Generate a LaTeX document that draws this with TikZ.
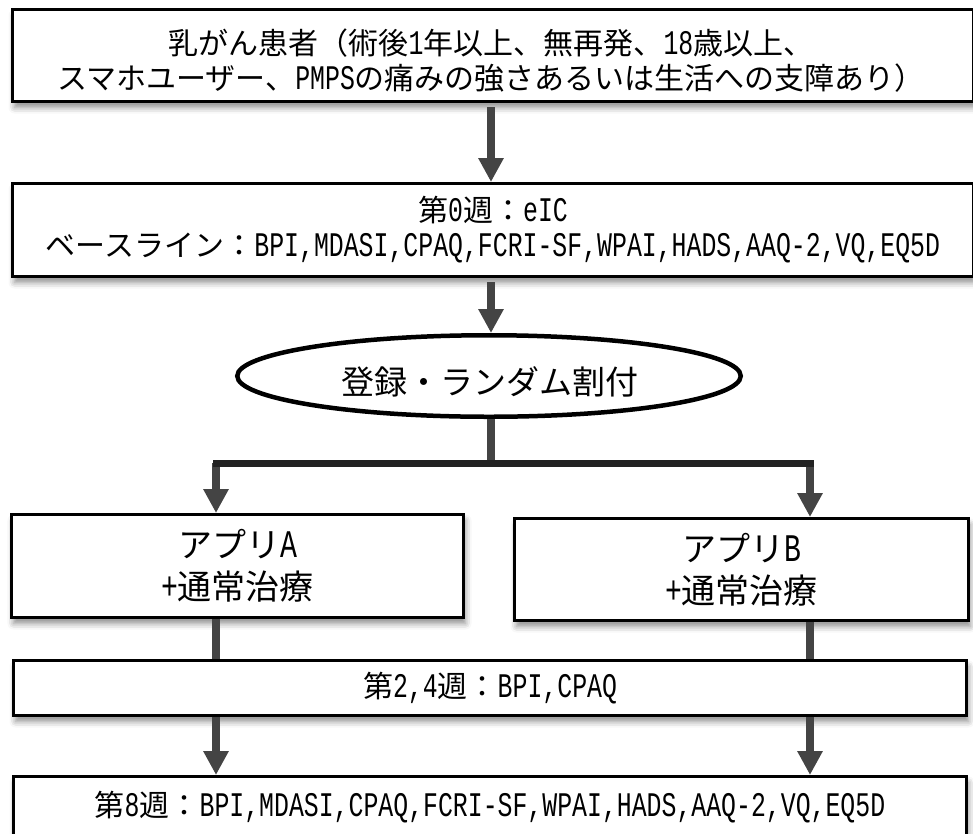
\documentclass[tikz,border=0pt]{standalone}
\usepackage{fontspec}
\setmainfont{Noto Sans CJK JP}
\newfontfamily\latf[Scale=1.15,FakeStretch=0.72]{Liberation Mono}
\newcommand\ltn[1]{{\latf #1}}
\usetikzlibrary{shapes.geometric,arrows.meta,shadows.blur}
\definecolor{conncol}{HTML}{444444}
\definecolor{hcol}{HTML}{222222}
\begin{document}
\begin{tikzpicture}[x=1pt,y=-1pt,
  box/.style={draw=black, line width=3pt, fill=white, inner sep=0pt, align=center,
    blur shadow={shadow xshift=2pt, shadow yshift=-6pt, shadow blur radius=6pt, shadow opacity=45}},
  txt/.style={inner sep=0pt, align=center, font=\fontsize{30}{35}\selectfont},
  bigtxt/.style={font=\fontsize{34}{42}\selectfont},
  oval/.style={draw=black, line width=4.5pt, fill=white, ellipse, inner sep=0pt},
  conn/.style={draw=conncol, line width=8pt},
  arr/.style={conn, -{Triangle[width=24pt,length=24pt]}},
  hline/.style={draw=hcol, line width=7pt, line cap=rect}]
\useasboundingbox (0,0) rectangle (973,833);

% boxes
\node[box, minimum width=961, minimum height=92] (b1) at (493,55.5) {};
\node[txt] (t1) at (491,61) {乳がん患者（術後\ltn{1}年以上、無再発、\ltn{18}歳以上、\\スマホユーザー、\ltn{PMPS}の痛みの強さあるいは生活への支障あり）};

\node[box, txt, minimum width=961, minimum height=93] (b2) at (493,230)
  {第\ltn{0}週：\ltn{eIC}\\ベースライン：\ltn{BPI,MDASI,CPAQ,FCRI-SF,WPAI,HADS,AAQ-2,VQ,EQ5D}};

\node[oval, minimum width=503.5, minimum height=81.5] (el) at (489,376) {};
\node[txt, font=\fontsize{33}{38}\selectfont] (tel) at (490,382) {登録・ランダム割付};

\node[box, txt, bigtxt, minimum width=452, minimum height=103] (bA) at (237.5,566)
  {アプリ\ltn{A}\\\ltn{+}通常治療};
\node[box, txt, bigtxt, minimum width=454, minimum height=102] (bB) at (741.5,569.5)
  {アプリ\ltn{B}\\\ltn{+}通常治療};

\node[box, txt, minimum width=953, minimum height=55] (b24) at (490,688)
  {第\ltn{2,4}週：\ltn{BPI,CPAQ}};
\node[box, txt, minimum width=953, minimum height=62] (b8) at (490,807.5)
  {第\ltn{8}週：\ltn{BPI,MDASI,CPAQ,FCRI-SF,WPAI,HADS,AAQ-2,VQ,EQ5D}};

% connectors
\coordinate (br) at (491,463);
\coordinate (brA) at (216,463);
\coordinate (brB) at (810,463);

\draw[arr, shorten <=4pt] (b1.south -| br) -- (b2.north -| br);
\draw[arr, shorten <=4pt] (b2.south -| br) -- (el.north -| br);
\draw[conn] (el.south -| br) -- (br);
\draw[arr] (brA) -- (bA.north -| brA);
\draw[arr] (brB) -- (bB.north -| brB);
\draw[hline] (brA) -- (brB);
\draw[conn] (bA.south -| brA) -- (b24.north -| brA);
\draw[conn] (bB.south -| brB) -- (b24.north -| brB);
\draw[arr] (b24.south -| brA) -- (b8.north -| brA);
\draw[arr] (b24.south -| brB) -- (b8.north -| brB);
\end{tikzpicture}
\end{document}
